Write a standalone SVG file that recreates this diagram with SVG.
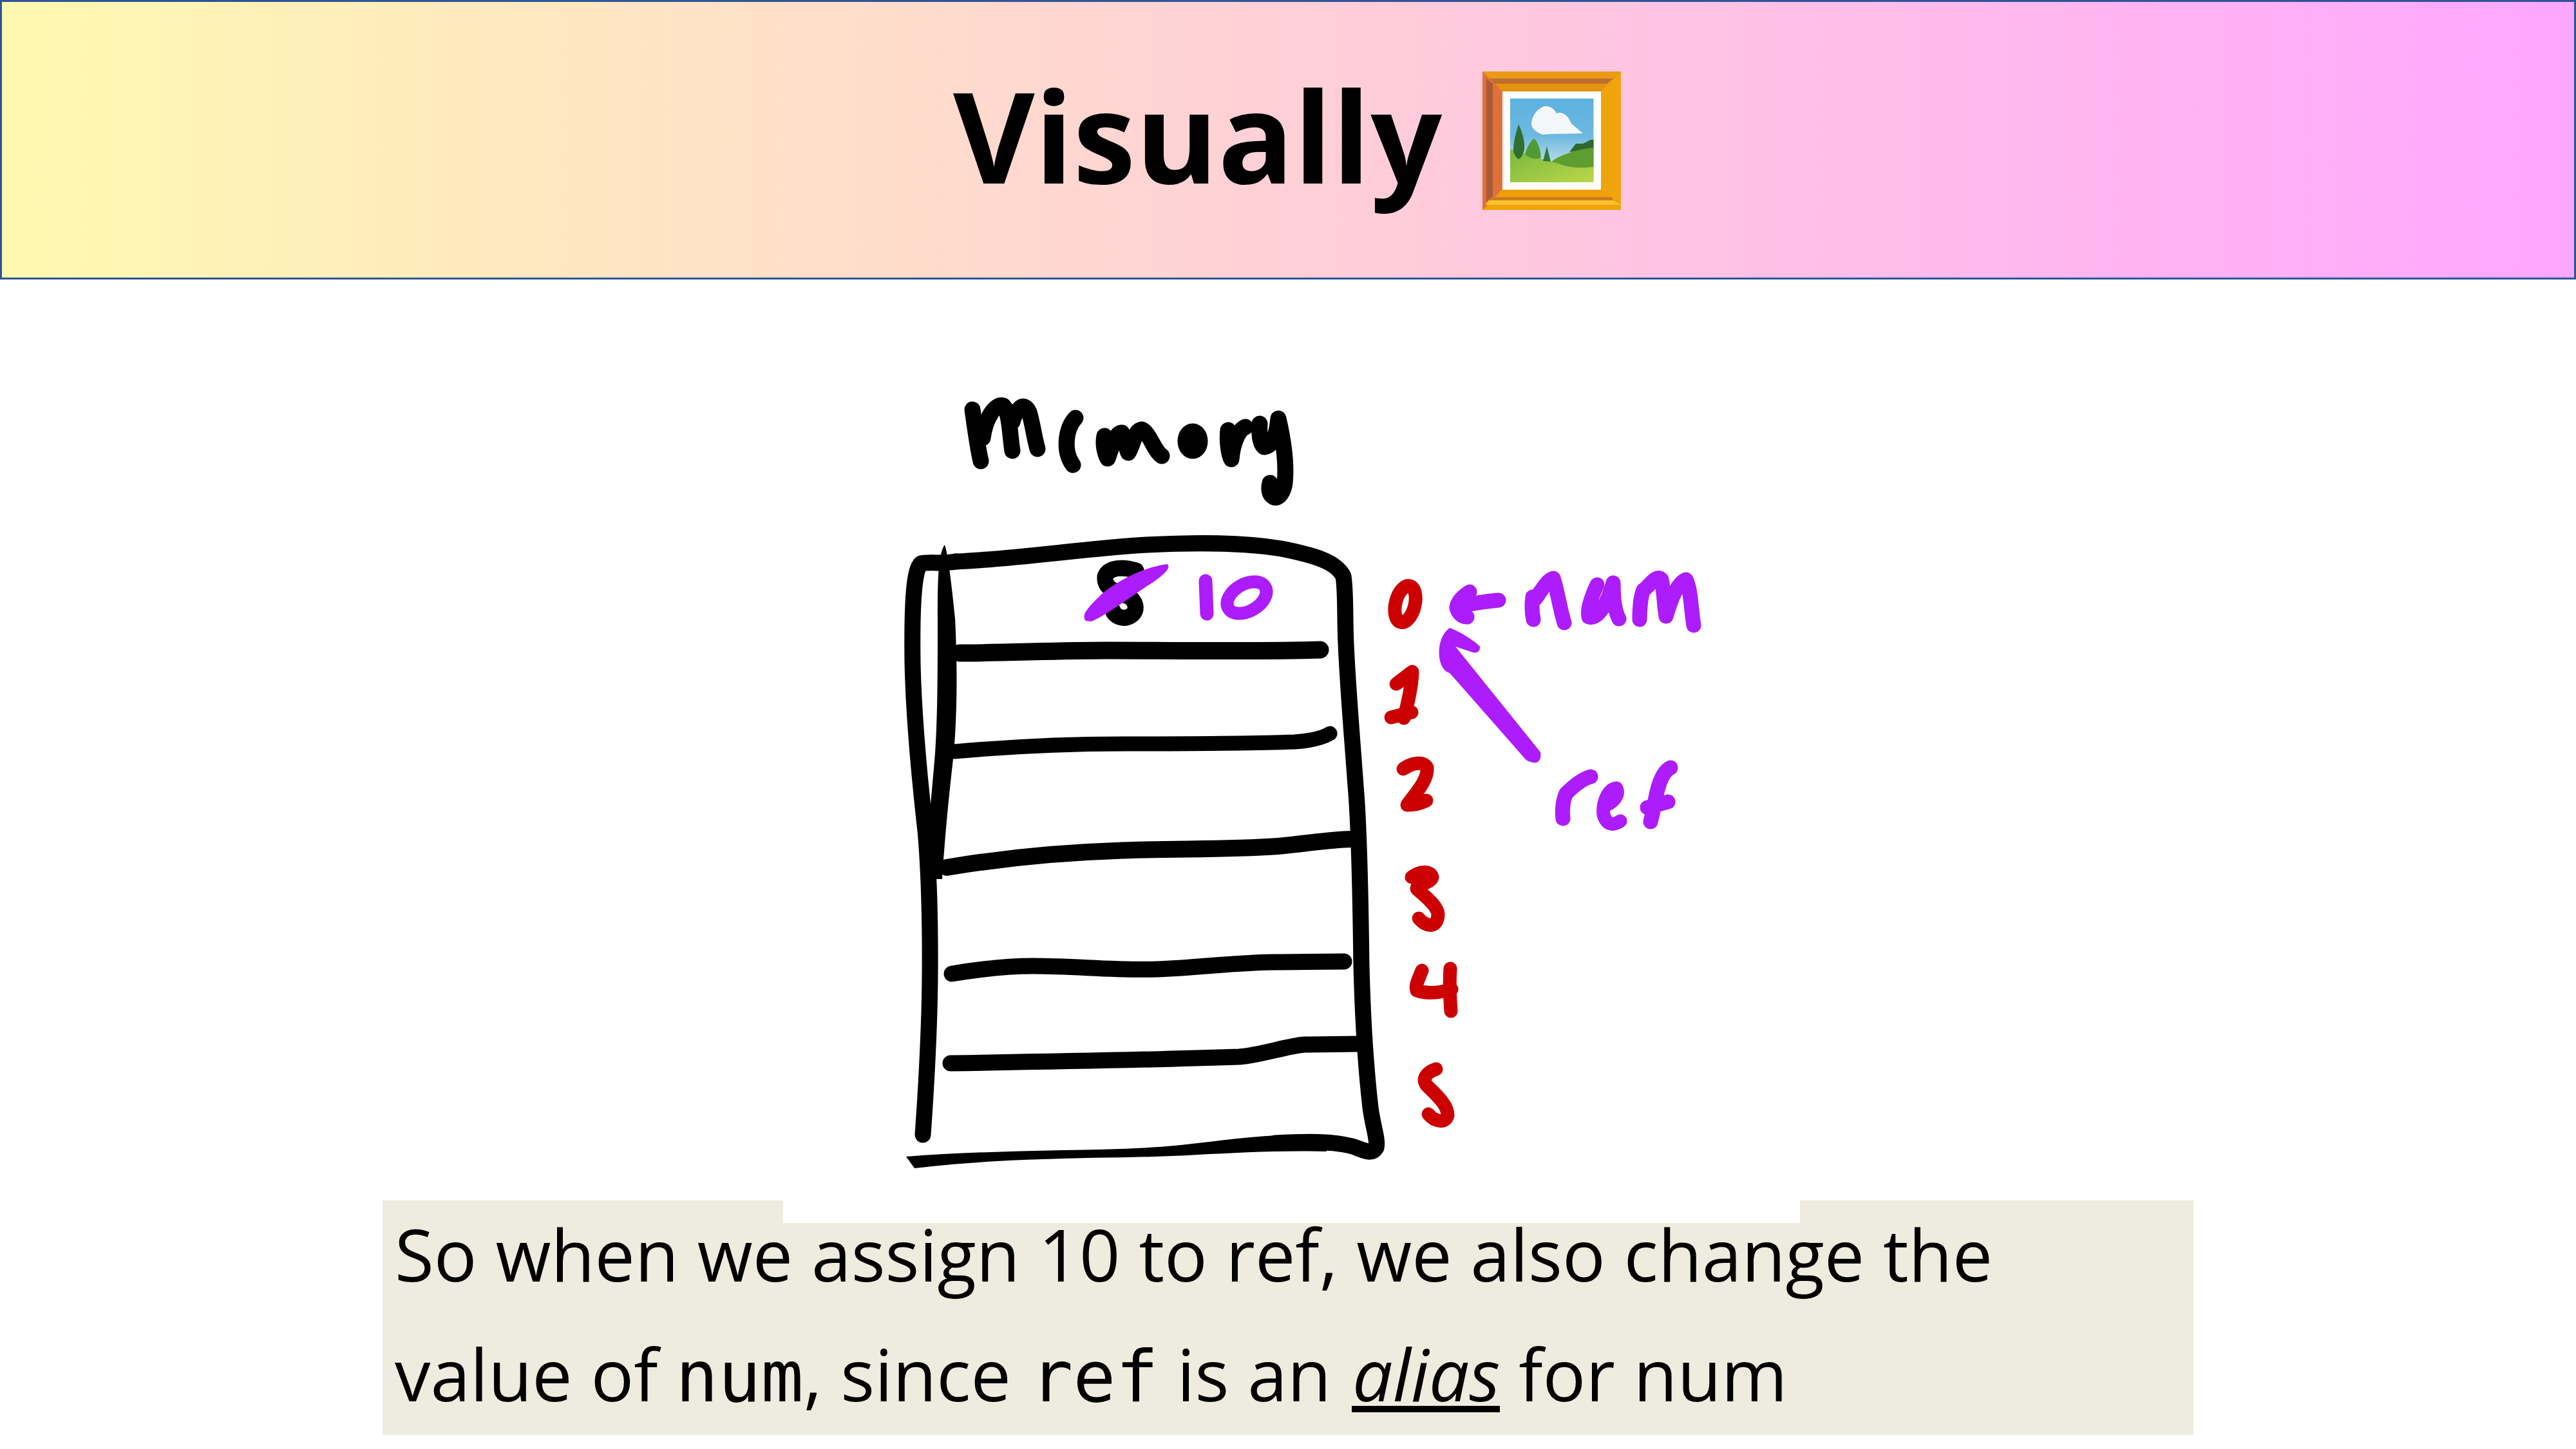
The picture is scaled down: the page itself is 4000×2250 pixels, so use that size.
<svg xmlns="http://www.w3.org/2000/svg" width="4000" height="2250" viewBox="0 0 4000 2250">
<style>
.t{font-family:"Open Sans","Noto Sans",sans-serif;fill:#000}
.body{font-size:111px}
.mono{font-family:"DejaVu Sans Mono","Liberation Mono",monospace;font-size:110px}
.k,.p,.r{fill:none;stroke-linecap:round;stroke-linejoin:round}
.k{stroke:#000;stroke-width:25}
.p{stroke:#ac1cfc;stroke-width:23}
.r{stroke:#cc0000;stroke-width:21}
</style>
<defs>
<linearGradient id="hg" x1="0" y1="0" x2="1" y2="0"><stop offset="0" stop-color="#fff9b0"/><stop offset="1" stop-color="#ffa6ff"/></linearGradient>
<linearGradient id="sky" x1="0" y1="0" x2="0" y2="1"><stop offset="0" stop-color="#5cb1df"/><stop offset="0.45" stop-color="#6db9e0"/><stop offset="0.75" stop-color="#b5dbe6"/></linearGradient>
<linearGradient id="grass" x1="0" y1="0" x2="1" y2="1"><stop offset="0" stop-color="#78b83e"/><stop offset="1" stop-color="#bcd74a"/></linearGradient>
</defs>
<rect id="bg" width="4000" height="2250" fill="#fff"/>
<g id="header">
<rect x="1.500" y="1.500" width="3997" height="431" fill="url(#hg)" stroke="#2f5597" stroke-width="3"/>
<text class="t" x="1480" y="285" font-size="195" font-weight="700">Visually</text>
</g>
<g id="emoji">
<rect x="2302" y="111" width="215" height="215" fill="#f0a40c"/>
<polygon points="2302,111 2517,111 2486,142 2333,142" fill="#e5930f"/>
<polygon points="2302,111 2517,111 2505,121 2308,121" fill="#ea9a16"/>
<polygon points="2308,122 2505,122 2495,130 2318,130" fill="#bd6f32"/>
<polygon points="2302,111 2333,142 2333,294 2302,326" fill="#e0703a"/>
<polygon points="2308,122 2318,130 2318,305 2308,313" fill="#a95b38"/>
<polygon points="2333,294 2486,294 2505,310 2318,310" fill="#ee9f0a"/>
<polygon points="2318,306 2503,306 2505,311 2312,311" fill="#c97c1c"/>
<polygon points="2312,311 2505,311 2517,318 2306,318" fill="#fbc02d"/>
<rect x="2333" y="142" width="153" height="152.500" fill="#fff"/>
<rect x="2345" y="153" width="129.500" height="130" fill="url(#sky)"/>
<path d="M2437,236 L2447,223 L2458,223 L2470,217 L2474.500,217 L2474.500,232 Z" fill="#2f6a2c"/>
<path d="M2408,252 C2420,242 2440,234 2474.500,229 L2474.500,262 L2420,262 Z" fill="#5e9e30"/>
<path d="M2345,232 C2370,238 2395,248 2420,254 C2440,262 2460,261 2474.500,259 L2474.500,283 L2345,283 Z" fill="url(#grass)"/>
<path d="M2358,193 C2364,205 2368,220 2367,232 C2365,242 2360,247 2358,247 C2354,245 2349,238 2350,230 C2351,215 2355,203 2358,193 Z" fill="#2f6f2f"/>
<path d="M2382,215 C2388,220 2392,232 2393,245 C2385,248 2375,246 2368,240 C2370,230 2376,220 2382,215 Z" fill="#4f9c35"/>
<path d="M2402,227 L2408,251 L2396,250 Z" fill="#2f7a3a"/>
<path d="M2378,190 C2380,178 2388,168 2398,165 C2408,164 2414,170 2417,176 C2425,173 2434,177 2440,192 L2458,207 C2440,208 2417,207 2395,209 C2385,205 2376,198 2378,190 Z" fill="#f4f7f8"/>
</g>
<g id="memory-label">
<path class="k" d="M1510,636 C1514,665 1518,695 1523,716"/>
<path class="k" d="M1526,680 C1530,650 1545,626 1558,630 C1568,640 1568,675 1572,700"/>
<path class="k" d="M1572,655 C1578,635 1590,622 1598,640 C1604,660 1606,680 1611,697"/>
<path class="k" d="M1670,649 C1655,665 1650,700 1666,722"/>
<path class="k" d="M1715,677 C1712,690 1716,705 1720,712 C1726,695 1732,672 1742,672 C1748,680 1748,695 1752,703 C1760,690 1762,668 1773,667 C1785,672 1792,700 1804,708"/>
<ellipse class="k" cx="1852" cy="685" rx="11" ry="15"/>
<path class="k" d="M1907,668 C1905,685 1908,705 1912,713 C1914,690 1922,668 1934,663"/>
<path class="k" d="M1956,658 C1955,675 1957,690 1963,694 C1975,692 1982,680 1985,650 C1992,680 1998,720 1995,750 C1993,765 1985,775 1978,772 C1970,768 1970,758 1972,750"/>
</g>
<g id="memory-table">
<path d="M1467,846 C1472,860 1478,910 1483,960 C1487,1040 1486,1110 1481,1170 C1474,1230 1467,1300 1463,1365 L1436,1365 C1440,1300 1447,1230 1452,1170 C1456,1110 1456,1040 1456,960 C1456,910 1456,860 1467,846 Z" fill="#000"/>
<path class="k" d="M1484,872 C1580,868 1680,852 1780,846 C1860,842 1930,842 1990,852 C2040,862 2075,872 2086,895 C2090,920 2088,960 2090,1000 C2093,1070 2100,1150 2105,1220 C2112,1300 2113,1440 2114,1500 C2116,1580 2120,1650 2128,1720 C2132,1750 2140,1770 2137,1782 C2130,1794 2118,1786 2100,1780 C2070,1772 2030,1772 1980,1775"/>
<path class="k" d="M1484,872 C1460,876 1440,872 1430,875 C1418,885 1416,950 1417,1030 C1419,1120 1428,1210 1437,1290 C1445,1380 1445,1500 1443,1570 C1441,1640 1436,1720 1433,1762"/>
<path d="M1407,1796 C1480,1790 1560,1788 1650,1786 C1720,1785 1790,1784 1860,1775 C1920,1768 1980,1760 2050,1762 L2060,1788 C1990,1786 1920,1790 1860,1793 C1780,1798 1700,1797 1620,1800 C1550,1802 1480,1807 1420,1814 Z" fill="#000"/>
<path class="k" style="stroke-width:27" d="M1490,1014 C1560,1014 1640,1010 1720,1010 C1800,1010 1950,1012 2050,1009"/>
<path class="k" style="stroke-width:23" d="M1482,1167 C1560,1160 1640,1155 1746,1155 C1830,1155 1920,1155 2010,1152 C2040,1150 2055,1145 2065,1139"/>
<path class="k" style="stroke-width:26" d="M1470,1347 C1560,1332 1640,1324 1733,1321 C1820,1317 1900,1320 1985,1314 C2030,1310 2060,1304 2100,1303"/>
<path class="k" d="M1478,1512 C1520,1505 1560,1500 1605,1500 C1670,1500 1730,1507 1796,1505 C1860,1503 1930,1493 1988,1494 L2087,1493"/>
<path class="k" d="M1476,1651 C1600,1649 1780,1646 1924,1641 C1960,1638 1995,1625 2025,1622 L2108,1621"/>
<path class="k" d="M1764,886 C1745,880 1722,880 1716,895 C1714,915 1735,920 1752,926 C1766,934 1768,952 1752,958 C1742,962 1730,956 1728,948"/>
</g>
<g id="values">
<path d="M1686,964 C1678,955 1690,943 1710,923 C1740,898 1780,880 1812,876 C1820,880 1808,892 1792,903 C1760,923 1722,953 1695,965 Z" fill="#ac1cfc"/>
<path class="p" style="stroke-width:21" d="M1872,902 L1874,953"/>
<ellipse class="p" cx="1936" cy="928" rx="33" ry="21" transform="rotate(-30 1936 928)" style="stroke-width:20"/>
</g>
<g id="addresses">
<ellipse class="r" cx="2182" cy="938" rx="15" ry="29" transform="rotate(14 2182 938)"/>
<path class="r" d="M2168,1062 C2178,1055 2190,1045 2193,1043 C2192,1070 2185,1095 2180,1115 M2160,1114 L2192,1106"/>
<path class="r" d="M2179,1194 C2190,1186 2210,1180 2216,1192 C2218,1212 2195,1235 2185,1250 C2195,1250 2205,1248 2215,1243"/>
<path class="r" d="M2192,1362 C2205,1352 2222,1352 2224,1362 C2222,1372 2200,1372 2200,1380 C2210,1390 2232,1405 2233,1420 C2232,1442 2215,1440 2203,1426"/>
<path class="r" d="M2208,1507 C2203,1520 2197,1530 2200,1538 C2220,1545 2240,1540 2254,1536 M2252,1504 C2250,1530 2252,1555 2253,1570"/>
<path class="r" d="M2230,1660 C2215,1665 2208,1675 2215,1685 C2230,1700 2248,1715 2248,1732 C2245,1745 2228,1742 2218,1730"/>
</g>
<g id="num-label">
<path class="p" d="M2327,932 C2305,934 2280,938 2262,943 M2282,919 C2272,925 2262,935 2262,944 C2264,952 2270,958 2278,958"/>
<path class="p" d="M2380,927 C2378,940 2379,952 2381,962 M2384,930 C2395,915 2403,900 2412,898 C2418,915 2422,945 2429,967"/>
<path class="p" d="M2480,908 C2472,925 2464,945 2467,958 C2482,962 2497,935 2505,905 C2505,930 2508,950 2514,961"/>
<path class="p" d="M2546,962 C2546,945 2548,925 2552,916 C2560,912 2572,890 2580,900 C2584,920 2584,940 2587,957 C2595,930 2605,905 2618,900 C2626,915 2626,950 2630,971"/>
</g>
<g id="ref-label">
<path d="M2251,975 C2262,978 2290,995 2298,1004 C2299,1012 2292,1015 2287,1013 L2260,1004 L2392,1168 C2394,1180 2388,1186 2380,1184 C2375,1183 2370,1181 2367,1177 L2251,1045 C2243,1043 2238,1035 2236,1026 C2232,1010 2236,985 2251,975 Z" fill="#ac1cfc"/>
<path class="p" d="M2427,1271 C2425,1255 2428,1240 2432,1232 C2442,1222 2455,1210 2470,1206"/>
<path class="p" style="stroke-width:21" d="M2495,1250 C2505,1245 2515,1235 2510,1224 C2495,1226 2488,1250 2490,1265 C2495,1282 2505,1282 2516,1275"/>
<path class="p" d="M2594,1192 C2578,1200 2572,1230 2568,1255 L2563,1276 M2558,1254 L2590,1245"/>
</g>
<g id="caption">
<path d="M594,1864 H1216 V1899 H2795 V1864 H3406 V2228 H594 Z" fill="#eeecdf"/>
<text class="t body" x="613" y="1990">So when we assign 10 to ref, we also change the</text>
<text class="t body" y="2176"><tspan x="613">value of </tspan><tspan class="mono" x="1049">num</tspan><tspan>, since </tspan><tspan class="mono" x="1600">ref</tspan><tspan> is an </tspan><tspan font-style="italic" x="2100">alias</tspan><tspan> for num</tspan></text>
<rect x="2099" y="2183" width="230" height="10" fill="#000"/>
</g>
</svg>
